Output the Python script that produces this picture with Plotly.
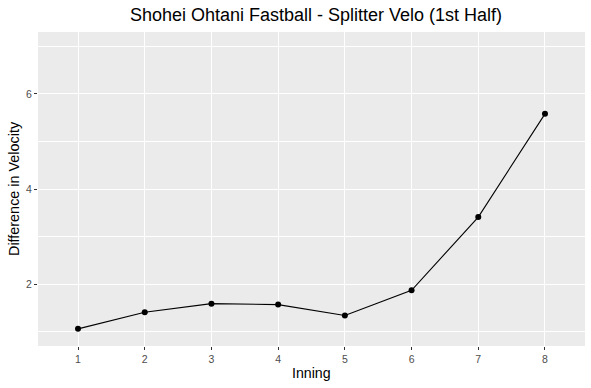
import plotly.graph_objects as go

innings = [1, 2, 3, 4, 5, 6, 7, 8]
velo_diff = [1.06, 1.41, 1.59, 1.57, 1.34, 1.87, 3.41, 5.58]
x_ticks = [1, 2, 3, 4, 5, 6, 7, 8]
y_ticks = [2, 4, 6]
y_minor = [1, 3, 5, 7]

fig = go.Figure()
fig.add_trace(go.Scatter(
    x=innings, y=velo_diff, mode="lines+markers",
    line=dict(color="black", width=1.1),
    marker=dict(color="black", size=6),
    showlegend=False,
))

L, R, T, B = 38, 6, 32, 42
W, H = 591, 388
pw, ph = W - L - R, H - T - B

fig.update_layout(
    width=W, height=H,
    margin=dict(l=L, r=R, t=T, b=B, autoexpand=False),
    paper_bgcolor="white",
    plot_bgcolor="#EBEBEB",
    font=dict(family="Liberation Sans, Arial, sans-serif", color="#4D4D4D"),
    title=dict(text="Shohei Ohtani Fastball - Splitter Velo (1st Half)",
               xref="container", x=316 / W, xanchor="center",
               yref="container", y=1 - 15 / H, yanchor="middle",
               font=dict(size=18, color="black")),
    annotations=[
        dict(text="Inning", xref="paper", yref="paper",
             x=(311 - L) / pw, y=-(373 - (H - B)) / ph, xanchor="center", yanchor="middle",
             showarrow=False, font=dict(size=14.2, color="black")),
        dict(text="Difference in Velocity", xref="paper", yref="paper",
             x=-(L - 14) / pw, y=0.5, xanchor="center", yanchor="middle",
             textangle=-90, showarrow=False, font=dict(size=14.4, color="black")),
    ],
)
fig.update_xaxes(
    range=[0.4, 8.6], tickvals=x_ticks, ticktext=[str(v) for v in x_ticks],
    automargin=False,
    showgrid=True, gridcolor="white", gridwidth=1.1,
    zeroline=False, showline=False,
    ticks="outside", ticklen=3, tickcolor="#333333", tickwidth=1,
    tickfont=dict(size=10.5, color="#4D4D4D"),
)
fig.update_yaxes(
    range=[0.7, 7.3], tickvals=y_ticks, ticktext=[str(v) for v in y_ticks],
    automargin=False,
    showgrid=True, gridcolor="white", gridwidth=1.1,
    zeroline=False, showline=False,
    ticks="outside", ticklen=3, tickcolor="#333333", tickwidth=1,
    tickfont=dict(size=10.5, color="#4D4D4D"),
    minor=dict(tickvals=y_minor, showgrid=True, gridcolor="white", gridwidth=0.55, ticks=""),
)

fig.write_html("out.html", config={"displayModeBar": False},
               post_script="document.body.style.margin='0';")
